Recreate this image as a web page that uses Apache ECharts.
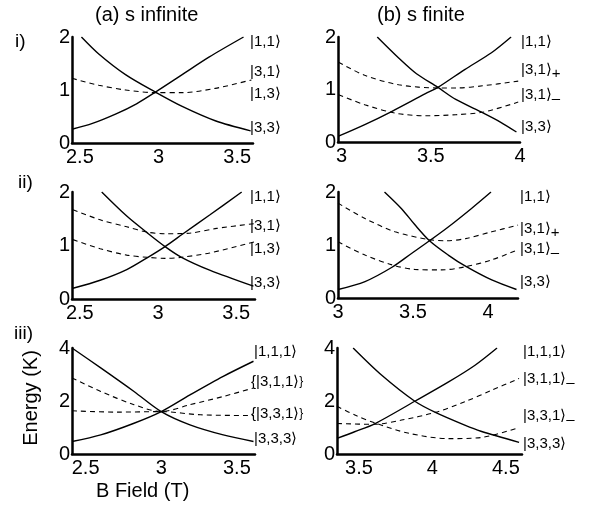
<!DOCTYPE html>
<html>
<head>
<meta charset="utf-8">
<script src="https://cdn.jsdelivr.net/npm/echarts@6/dist/echarts.min.js"></script>
<style>
  html, body { margin: 0; padding: 0; background: #fff; }
  #main { width: 589px; height: 512px; }
</style>
</head>
<body>
<div id="main"></div>
<script>
// tick labels
const xTicksAI = [2.5, 3, 3.5];
const xTicksBI = [3, 3.5, 4];
const xTicksAII = [2.5, 3, 3.5];
const xTicksBII = [3, 3.5, 4];
const xTicksAIII = [2.5, 3, 3.5];
const xTicksBIII = [3.5, 4, 4.5];

// (a) i
const aI_11 = [[2.45,0.26],[2.58,0.37],[2.73,0.55],[2.86,0.74],[2.98,0.96],[3.15,1.29],[3.32,1.62],[3.54,2.0]];
const aI_33 = [[2.51,2.0],[2.62,1.68],[2.79,1.29],[2.98,0.96],[3.15,0.69],[3.36,0.42],[3.585,0.23]];
const aI_31 = [[2.45,1.22],[2.62,1.09],[2.79,1.0],[2.98,0.95],[3.15,0.95],[3.36,1.03],[3.59,1.19]];

// (b) i
const bI_11 = [[2.983,0.11],[3.13,0.33],[3.28,0.58],[3.47,0.92],[3.54,1.04],[3.69,1.38],[3.84,1.7],[3.95,2.0]];
const bI_33 = [[3.2,2.0],[3.32,1.6],[3.42,1.3],[3.54,1.04],[3.64,0.81],[3.795,0.55],[3.89,0.38],[3.98,0.19]];
const bI_31p = [[2.983,1.52],[3.13,1.27],[3.32,1.09],[3.54,1.03],[3.65,1.03],[3.79,1.07],[3.99,1.16]];
const bI_31m = [[2.983,0.9],[3.13,0.71],[3.3,0.55],[3.47,0.5],[3.64,0.52],[3.795,0.57],[3.99,0.76]];

// (a) ii
const aII_11 = [[2.456,0.2],[2.63,0.35],[2.8,0.55],[2.93,0.77],[3.045,0.98],[3.16,1.22],[3.33,1.57],[3.535,2.0]];
const aII_33 = [[2.64,2.0],[2.8,1.55],[2.93,1.24],[3.045,0.98],[3.15,0.78],[3.33,0.54],[3.61,0.24]];
const aII_31 = [[2.456,1.67],[2.63,1.48],[2.8,1.35],[2.93,1.25],[3.045,1.22],[3.2,1.23],[3.375,1.32],[3.62,1.41]];
const aII_13 = [[2.456,1.11],[2.63,0.94],[2.8,0.82],[2.93,0.78],[3.045,0.76],[3.15,0.78],[3.33,0.86],[3.62,1.07]];

// (b) ii
const bII_11 = [[3.0,0.16],[3.18,0.31],[3.36,0.58],[3.49,0.84],[3.61,1.08],[3.735,1.34],[3.89,1.69],[4.02,2.0]];
const bII_33 = [[3.31,2.0],[3.425,1.68],[3.51,1.39],[3.61,1.08],[3.735,0.81],[3.85,0.6],[4.025,0.34],[4.19,0.16]];
const bII_31p = [[3.0,1.79],[3.18,1.5],[3.38,1.25],[3.61,1.1],[3.72,1.08],[3.85,1.12],[4.025,1.25],[4.2,1.375]];
const bII_31m = [[3.0,1.06],[3.18,0.81],[3.36,0.625],[3.51,0.54],[3.69,0.53],[3.85,0.59],[4.025,0.72],[4.2,0.91]];

// (a) iii
const aIII_111 = [[2.41,0.47],[2.6,0.72],[2.82,1.16],[3.0,1.6],[3.19,2.23],[3.41,2.93],[3.61,3.5]];
const aIII_333 = [[2.41,4.0],[2.6,3.25],[2.82,2.36],[3.0,1.6],[3.19,1.1],[3.41,0.72],[3.61,0.47]];
const aIII_311 = [[2.41,2.87],[2.6,2.36],[2.82,1.86],[3.0,1.6],[3.19,1.86],[3.41,2.17],[3.61,2.49]];
const aIII_331 = [[2.41,1.63],[2.71,1.58],[3.0,1.6],[3.26,1.48],[3.61,1.45]];

// (b) iii
const bIII_111 = [[3.35,0.59],[3.47,0.84],[3.61,1.15],[3.88,1.99],[4.11,2.72],[4.29,3.35],[4.44,4.0]];
const bIII_333 = [[3.46,4.0],[3.655,2.97],[3.88,1.99],[4.02,1.57],[4.22,1.09],[4.33,0.86],[4.59,0.44]];
const bIII_311 = [[3.35,1.15],[3.61,1.12],[3.79,1.28],[4.02,1.57],[4.22,1.97],[4.405,2.41],[4.59,2.85]];
const bIII_331 = [[3.35,1.8],[3.48,1.45],[3.61,1.17],[3.84,0.78],[4.11,0.58],[4.33,0.62],[4.59,1.0]];

const FONT = 'Liberation Sans, Arial, sans-serif';

const panels = [
  { grid: { left: 72, top: 37, width: 181, height: 106 }, min: 2.45, max: 3.6, yMax: 2, yInt: 1, ticks: xTicksAI,
    curves: [[aI_11, 'solid'], [aI_33, 'solid'], [aI_31, 'dashed']] },
  { grid: { left: 338, top: 37, width: 182, height: 105 }, min: 2.98, max: 4.0, yMax: 2, yInt: 1, ticks: xTicksBI,
    curves: [[bI_11, 'solid'], [bI_33, 'solid'], [bI_31p, 'dashed'], [bI_31m, 'dashed']] },
  { grid: { left: 72, top: 192, width: 183, height: 107 }, min: 2.45, max: 3.62, yMax: 2, yInt: 1, ticks: xTicksAII,
    curves: [[aII_11, 'solid'], [aII_33, 'solid'], [aII_31, 'dashed'], [aII_13, 'dashed']] },
  { grid: { left: 338, top: 192, width: 180, height: 106 }, min: 3.0, max: 4.2, yMax: 2, yInt: 1, ticks: xTicksBII,
    curves: [[bII_11, 'solid'], [bII_33, 'solid'], [bII_31p, 'dashed'], [bII_31m, 'dashed']] },
  { grid: { left: 72, top: 348, width: 183, height: 106 }, min: 2.41, max: 3.62, yMax: 4, yInt: 2, ticks: xTicksAIII,
    curves: [[aIII_111, 'solid'], [aIII_333, 'solid'], [aIII_311, 'dashed'], [aIII_331, 'dashed']] },
  { grid: { left: 337, top: 348, width: 185, height: 106 }, min: 3.35, max: 4.61, yMax: 4, yInt: 2, ticks: xTicksBIII,
    curves: [[bIII_111, 'solid'], [bIII_333, 'solid'], [bIII_311, 'dashed'], [bIII_331, 'dashed']] }
];

const grids = [], xAxes = [], yAxes = [], series = [];
panels.forEach((p, i) => {
  grids.push(p.grid);
  xAxes.push({
    type: 'value', gridIndex: i, min: p.min, max: p.max,
    axisLine: { lineStyle: { color: '#000', width: 2.5 } },
    axisTick: { show: false },
    splitLine: { show: false },
    axisLabel: { customValues: p.ticks, color: '#000', fontSize: 20, fontFamily: FONT, margin: 4 }
  });
  yAxes.push({
    type: 'value', gridIndex: i, min: 0, max: p.yMax, interval: p.yInt,
    axisLine: { show: true, lineStyle: { color: '#000', width: 2.5 } },
    axisTick: { show: false },
    splitLine: { show: false },
    axisLabel: { color: '#000', fontSize: 20, fontFamily: FONT, margin: 2 }
  });
  p.curves.forEach(c => {
    series.push({
      type: 'line', xAxisIndex: i, yAxisIndex: i, data: c[0],
      smooth: 0.3,
      showSymbol: false, symbol: 'none', silent: true,
      lineStyle: c[1] === 'solid'
        ? { color: '#000', width: 1.4 }
        : { color: '#000', width: 1.1, type: [5, 4] }
    });
  });
});

function ket(x, y, txt, sub) {
  return {
    type: 'text', left: x, top: y - 9,
    style: {
      text: sub ? '{k|' + txt + '}{s|' + sub + '}' : '{k|' + txt + '}',
      rich: {
        k: { fontSize: 15, fontFamily: FONT, fill: '#000' },
        s: { fontSize: 15, fontFamily: FONT, fill: '#000', padding: [9, 0, 0, 0] }
      }
    }
  };
}
function txt(x, y, t, size, extra) {
  return Object.assign({
    type: 'text', left: x, top: y,
    style: { text: t, fontSize: size, fontFamily: FONT, fill: '#000' }
  }, extra || {});
}

const graphics = [
  txt(95, 5, '(a) s infinite', 20),
  txt(377, 5, '(b) s finite', 20),
  txt(15, 32, 'i)', 19),
  txt(18, 173, 'ii)', 19),
  txt(14, 324, 'iii)', 19),
  { type: 'text', x: 21, y: 398, rotation: Math.PI / 2, originX: 0, originY: 0,
    style: { text: 'Energy (K)', fontSize: 20, fontFamily: FONT, fill: '#000', align: 'center', verticalAlign: 'top' } },
  txt(96, 481, 'B Field (T)', 20),

  ket(250, 43, '|1,1⟩'), ket(250, 73, '|3,1⟩'), ket(250, 95, '|1,3⟩'), ket(250, 129, '|3,3⟩'),
  ket(521, 43, '|1,1⟩'), ket(521, 71, '|3,1⟩', '+'), ket(521, 96, '|3,1⟩', '–'), ket(521, 128, '|3,3⟩'),
  ket(250, 198, '|1,1⟩'), ket(250, 227, '|3,1⟩'), ket(250, 250, '|1,3⟩'), ket(250, 284, '|3,3⟩'),
  ket(520, 198, '|1,1⟩'), ket(520, 230, '|3,1⟩', '+'), ket(520, 250, '|3,1⟩', '–'), ket(520, 283, '|3,3⟩'),
  ket(254, 353, '|1,1,1⟩'), ket(251, 383, '{|3,1,1⟩}'), ket(251, 415, '{|3,3,1⟩}'), ket(254, 440, '|3,3,3⟩'),
  ket(523, 353, '|1,1,1⟩'), ket(523, 380, '|3,1,1⟩', '–'), ket(523, 417, '|3,3,1⟩', '–'), ket(523, 445, '|3,3,3⟩')
];

const chart = echarts.init(document.getElementById('main'), null, { renderer: 'canvas' });
chart.setOption({
  animation: false,
  backgroundColor: '#fff',
  grid: grids,
  xAxis: xAxes,
  yAxis: yAxes,
  series: series,
  graphic: graphics
});
</script>
</body>
</html>
